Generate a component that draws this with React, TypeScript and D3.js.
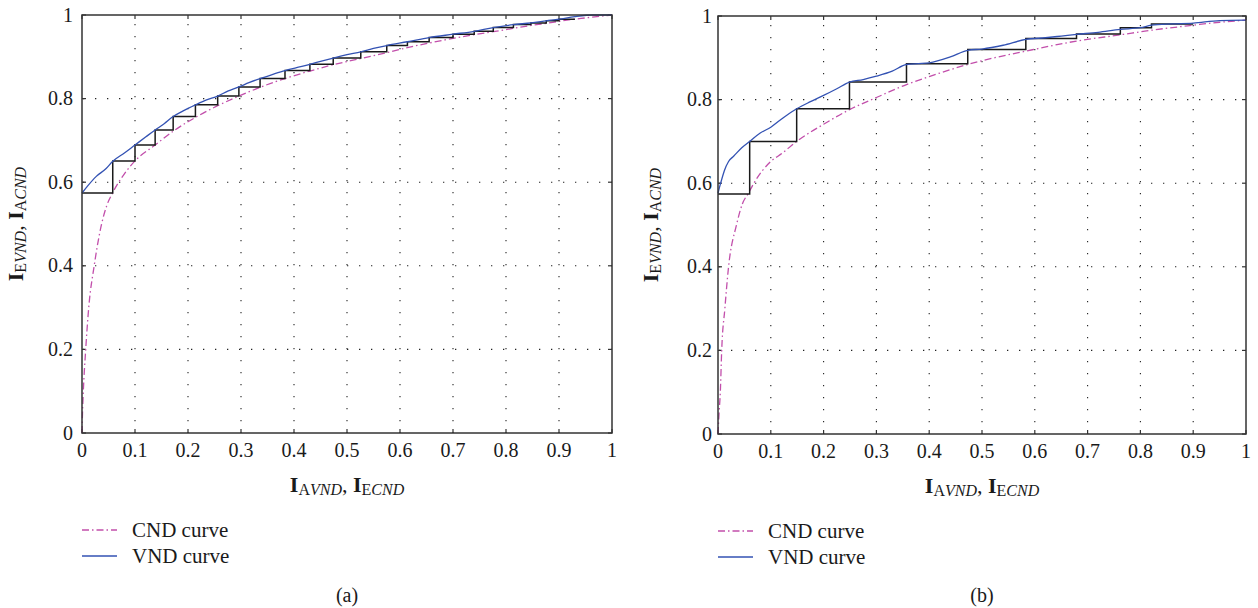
import React from "react";
import * as d3 from "d3";

// axis ticks
const xTicks = [0, 0.1, 0.2, 0.3, 0.4, 0.5, 0.6, 0.7, 0.8, 0.9, 1];
const yTicks = [0, 0.2, 0.4, 0.6, 0.8, 1];
const xTickLabels = ["0", "0.1", "0.2", "0.3", "0.4", "0.5", "0.6", "0.7", "0.8", "0.9", "1"];
const yTickLabels = ["0", "0.2", "0.4", "0.6", "0.8", "1"];

// panel (a)
const cndA: [number, number][] = [
  [0, 0], [0.001, 0.05], [0.0025, 0.1], [0.007, 0.2], [0.0127, 0.3], [0.023, 0.4],
  [0.037, 0.5], [0.047, 0.545], [0.058, 0.575], [0.08, 0.62], [0.1, 0.651],
  [0.138, 0.689], [0.172, 0.722], [0.214, 0.755], [0.256, 0.783], [0.296, 0.806],
  [0.336, 0.827], [0.383, 0.848], [0.43, 0.866], [0.474, 0.881], [0.526, 0.896],
  [0.575, 0.91], [0.614, 0.922], [0.655, 0.933], [0.7, 0.944], [0.74, 0.953],
  [0.776, 0.96], [0.814, 0.968], [0.847, 0.975], [0.876, 0.98], [0.9, 0.985],
  [0.95, 0.993], [1, 1],
];
const vndA: [number, number][] = [
  [0, 0.574], [0.01, 0.59], [0.027, 0.614], [0.045, 0.632], [0.058, 0.65],
  [0.08, 0.67], [0.1, 0.689], [0.12, 0.708], [0.138, 0.725], [0.155, 0.74],
  [0.172, 0.757], [0.19, 0.77], [0.214, 0.785], [0.235, 0.797], [0.256, 0.806],
  [0.275, 0.818], [0.296, 0.828], [0.315, 0.838], [0.336, 0.848], [0.36, 0.858],
  [0.383, 0.867], [0.405, 0.874], [0.43, 0.882], [0.45, 0.889], [0.474, 0.897],
  [0.5, 0.905], [0.526, 0.912], [0.55, 0.92], [0.575, 0.927], [0.614, 0.936],
  [0.655, 0.946], [0.7, 0.954], [0.74, 0.961], [0.776, 0.97], [0.814, 0.977],
  [0.847, 0.981], [0.876, 0.986], [0.9, 0.99], [0.93, 0.996], [0.965, 1], [1, 1],
];
const stairXA = [0, 0.058, 0.1, 0.138, 0.172, 0.214, 0.256, 0.296, 0.336, 0.383, 0.43, 0.474,
  0.526, 0.575, 0.614, 0.655, 0.7, 0.74, 0.776, 0.814, 0.847, 0.876, 0.9, 0.93];
const stairYA = [0.574, 0.651, 0.689, 0.725, 0.757, 0.785, 0.806, 0.828, 0.848, 0.867, 0.882, 0.897,
  0.912, 0.927, 0.936, 0.946, 0.954, 0.961, 0.97, 0.977, 0.981, 0.986, 0.99, 0.99];

// panel (b)
const cndB: [number, number][] = [
  [0, 0], [0.002, 0.05], [0.0044, 0.1], [0.007, 0.2], [0.013, 0.3], [0.02, 0.4],
  [0.035, 0.5], [0.046, 0.55], [0.058, 0.577], [0.068, 0.6], [0.1, 0.652],
  [0.122, 0.672], [0.149, 0.7], [0.2, 0.741], [0.249, 0.776], [0.3, 0.805],
  [0.357, 0.836], [0.4, 0.855], [0.473, 0.884], [0.5, 0.893], [0.583, 0.916],
  [0.679, 0.94], [0.762, 0.955], [0.821, 0.966], [0.9, 0.978], [0.95, 0.985], [1, 0.99],
];
const vndB: [number, number][] = [
  [0, 0.576], [0.005, 0.6], [0.012, 0.63], [0.02, 0.652], [0.03, 0.665], [0.045, 0.685],
  [0.06, 0.7], [0.08, 0.72], [0.1, 0.734], [0.125, 0.758], [0.149, 0.778],
  [0.175, 0.795], [0.2, 0.81], [0.225, 0.826], [0.249, 0.842], [0.275, 0.848],
  [0.3, 0.856], [0.33, 0.868], [0.357, 0.884], [0.38, 0.886], [0.4, 0.888],
  [0.44, 0.902], [0.473, 0.918], [0.5, 0.921], [0.54, 0.93], [0.583, 0.944],
  [0.62, 0.948], [0.65, 0.952], [0.679, 0.956], [0.72, 0.961], [0.762, 0.968],
  [0.8, 0.972], [0.821, 0.978], [0.86, 0.981], [0.9, 0.983], [0.95, 0.989], [1, 0.99],
];
const stairXB = [0, 0.06, 0.149, 0.249, 0.357, 0.473, 0.583, 0.679, 0.762, 0.821, 0.9];
const stairYB = [0.574, 0.7, 0.778, 0.842, 0.886, 0.92, 0.946, 0.957, 0.972, 0.981, 0.981];

const legendNames = ["CND curve", "VND curve"];

const FONT = "Liberation Serif, DejaVu Serif, serif";
const PINK = "#c24fab";
const BLUE = "#3352b3";

type PanelProps = {
  left: number; right: number; top: number; bottom: number;
  cnd: [number, number][]; vnd: [number, number][];
  stairX: number[]; stairY: number[];
  tag: string; labelGap: number; titleX: number;
};

function Panel(p: PanelProps) {
  const x = d3.scaleLinear().domain([0, 1]).range([p.left, p.right]);
  const y = d3.scaleLinear().domain([0, 1]).range([p.bottom, p.top]);
  const line = d3.line<[number, number]>().x((d) => x(d[0])).y((d) => y(d[1])).curve(d3.curveMonotoneX);
  const stairs = d3.line<number>()
    .x((_, i) => x(p.stairX[i]))
    .y((d) => y(d))
    .curve(d3.curveStepAfter);
  const cx = (p.left + p.right) / 2;
  const cy = (p.top + p.bottom) / 2;

  return (
    <g>
      {/* grid */}
      {xTicks.slice(1, -1).map((t) => (
        <line key={"gx" + t} x1={x(t)} x2={x(t)} y1={p.top} y2={p.bottom}
          stroke="#222" strokeWidth={1.1} strokeDasharray="1.3 10.7" strokeDashoffset={3} />
      ))}
      {yTicks.slice(1, -1).map((t) => (
        <line key={"gy" + t} x1={p.left} x2={p.right} y1={y(t)} y2={y(t)}
          stroke="#222" strokeWidth={1.1} strokeDasharray="1.3 10.7" strokeDashoffset={11} />
      ))}
      {/* inward ticks */}
      {xTicks.map((t) => (
        <g key={"tx" + t}>
          <line x1={x(t)} x2={x(t)} y1={p.bottom} y2={p.bottom - 4} stroke="#333" strokeWidth={1.2} />
          <line x1={x(t)} x2={x(t)} y1={p.top} y2={p.top + 4} stroke="#333" strokeWidth={1.2} />
        </g>
      ))}
      {yTicks.map((t) => (
        <g key={"ty" + t}>
          <line x1={p.left} x2={p.left + 4} y1={y(t)} y2={y(t)} stroke="#333" strokeWidth={1.2} />
          <line x1={p.right} x2={p.right - 4} y1={y(t)} y2={y(t)} stroke="#333" strokeWidth={1.2} />
        </g>
      ))}
      {/* curves */}
      <path d={line(p.cnd) ?? ""} fill="none" stroke={PINK} strokeWidth={1.3} strokeDasharray="7 3 1.5 3" />
      <path d={stairs(p.stairY) ?? ""} fill="none" stroke="#1a1a1a" strokeWidth={1.5} />
      <path d={line(p.vnd) ?? ""} fill="none" stroke={BLUE} strokeWidth={1.3} />
      {/* box */}
      <rect x={p.left} y={p.top} width={p.right - p.left} height={p.bottom - p.top}
        fill="none" stroke="#333" strokeWidth={1.5} />
      {/* tick labels */}
      {xTicks.map((t, i) => (
        <text key={"lx" + t} x={x(t)} y={p.bottom + 24} textAnchor="middle" fontSize={20}>
          {xTickLabels[i]}
        </text>
      ))}
      {yTicks.map((t, i) => (
        <text key={"ly" + t} x={p.left - p.labelGap} y={y(t) + 6.5} textAnchor="end" fontSize={20}>
          {yTickLabels[i]}
        </text>
      ))}
      {/* axis titles */}
      <text x={cx} y={p.bottom + 59} textAnchor="middle" fontSize={22}>
        <tspan fontWeight="bold">I</tspan>
        <tspan fontSize={16} dy={3}>A</tspan>
        <tspan fontSize={16} fontStyle="italic">VND</tspan>
        <tspan dy={-3}>, </tspan>
        <tspan fontWeight="bold">I</tspan>
        <tspan fontSize={16} dy={3}>E</tspan>
        <tspan fontSize={16} fontStyle="italic">CND</tspan>
      </text>
      <text transform={`translate(${p.titleX},${cy}) rotate(-90)`} textAnchor="middle" fontSize={22}>
        <tspan fontWeight="bold">I</tspan>
        <tspan fontSize={16} dy={3}>E</tspan>
        <tspan fontSize={16} fontStyle="italic">VND</tspan>
        <tspan dy={-3}>, </tspan>
        <tspan fontWeight="bold">I</tspan>
        <tspan fontSize={16} dy={3}>A</tspan>
        <tspan fontSize={16} fontStyle="italic">CND</tspan>
      </text>
      {/* legend */}
      {legendNames.map((name, i) => (
        <g key={name} transform={`translate(${p.left},${p.bottom + 97 + i * 26})`}>
          <line x1={0} x2={35} y1={0} y2={0} stroke={i === 0 ? PINK : BLUE} strokeWidth={1.3}
            strokeDasharray={i === 0 ? "7 3 1.5 3" : undefined} />
          <text x={50} y={7} fontSize={21}>{name}</text>
        </g>
      ))}
      <text x={cx} y={602} textAnchor="middle" fontSize={20}>{p.tag}</text>
    </g>
  );
}

export default function App() {
  return (
    <svg width={1258} height={608}
      style={{ position: "absolute", left: 0, top: 0, background: "#fff", fontFamily: FONT }}
      fill="#1a1a1a">
      <Panel left={82} right={612} top={15} bottom={433} cnd={cndA} vnd={vndA}
        stairX={stairXA} stairY={stairYA} tag="(a)" labelGap={9} titleX={23} />
      <Panel left={718} right={1246} top={16} bottom={434} cnd={cndB} vnd={vndB}
        stairX={stairXB} stairY={stairYB} tag="(b)" labelGap={6} titleX={658} />
    </svg>
  );
}
